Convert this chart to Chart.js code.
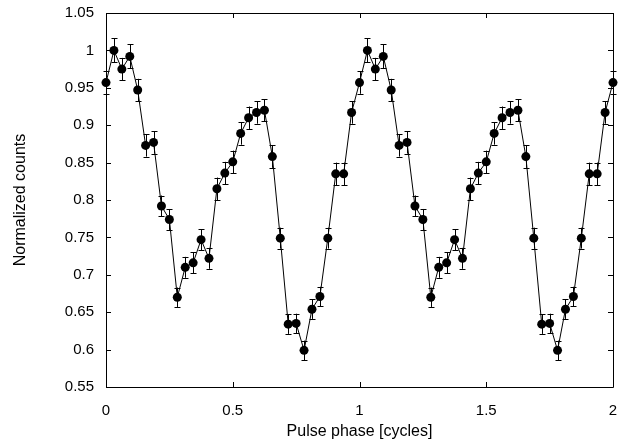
<!DOCTYPE html>
<html>
<head>
<meta charset="utf-8">
<script src="https://cdn.jsdelivr.net/npm/chart.js@4"></script>
<style>
  body { margin: 0; background: #fff; }
  #chart { display: block; }
</style>
</head>
<body>
<canvas id="chart" width="639" height="444"></canvas>
<script>
var phase = [0, 0.03125, 0.0625, 0.09375, 0.125, 0.15625, 0.1875, 0.21875, 0.25, 0.28125, 0.3125, 0.34375, 0.375, 0.40625, 0.4375, 0.46875,
    0.5, 0.53125, 0.5625, 0.59375, 0.625, 0.65625, 0.6875, 0.71875, 0.75, 0.78125, 0.8125, 0.84375, 0.875, 0.90625, 0.9375, 0.96875,
    1, 1.03125, 1.0625, 1.09375, 1.125, 1.15625, 1.1875, 1.21875, 1.25, 1.28125, 1.3125, 1.34375, 1.375, 1.40625, 1.4375, 1.46875,
    1.5, 1.53125, 1.5625, 1.59375, 1.625, 1.65625, 1.6875, 1.71875, 1.75, 1.78125, 1.8125, 1.84375, 1.875, 1.90625, 1.9375, 1.96875, 2];

var counts = [0.957, 1.000, 0.975, 0.992, 0.947, 0.873, 0.877, 0.792, 0.774, 0.670, 0.710, 0.716, 0.747, 0.722, 0.815, 0.836,
    0.851, 0.889, 0.910, 0.917, 0.920, 0.858, 0.749, 0.634, 0.635, 0.599, 0.654, 0.671, 0.749, 0.835, 0.835, 0.917,
    0.957, 1.000, 0.975, 0.992, 0.947, 0.873, 0.877, 0.792, 0.774, 0.670, 0.710, 0.716, 0.747, 0.722, 0.815, 0.836,
    0.851, 0.889, 0.910, 0.917, 0.920, 0.858, 0.749, 0.634, 0.635, 0.599, 0.654, 0.671, 0.749, 0.835, 0.835, 0.917, 0.957];

var errors = [0.015, 0.016, 0.015, 0.016, 0.015, 0.015, 0.015, 0.014, 0.014, 0.013, 0.014, 0.014, 0.014, 0.014, 0.015, 0.015,
    0.015, 0.015, 0.015, 0.015, 0.015, 0.015, 0.014, 0.013, 0.013, 0.013, 0.013, 0.013, 0.014, 0.015, 0.015, 0.015,
    0.015, 0.016, 0.015, 0.016, 0.015, 0.015, 0.015, 0.014, 0.014, 0.013, 0.014, 0.014, 0.014, 0.014, 0.015, 0.015,
    0.015, 0.015, 0.015, 0.015, 0.015, 0.015, 0.014, 0.013, 0.013, 0.013, 0.013, 0.013, 0.014, 0.015, 0.015, 0.015, 0.015];

var xTicks = [0, 0.5, 1, 1.5, 2];
var yTicks = [0.55, 0.6, 0.65, 0.7, 0.75, 0.8, 0.85, 0.9, 0.95, 1, 1.05];

var points = [];
for (var i = 0; i < phase.length; i++) {
    points.push({ x: phase[i], y: counts[i] });
}

var fontFamily = '"Liberation Sans", Arial, sans-serif';

// error bars with small caps, drawn under the markers
var errorBars = {
    id: 'errorBars',
    beforeDatasetsDraw: function (chart) {
        var ctx = chart.ctx;
        var xs = chart.scales.x, ys = chart.scales.y;
        ctx.save();
        ctx.strokeStyle = '#000';
        ctx.lineWidth = 1;
        for (var i = 0; i < phase.length; i++) {
            var px = Math.round(xs.getPixelForValue(phase[i])) + 0.5;
            var top = ys.getPixelForValue(counts[i] + errors[i]);
            var bot = ys.getPixelForValue(counts[i] - errors[i]);
            ctx.beginPath();
            ctx.moveTo(px, top); ctx.lineTo(px, bot);
            ctx.moveTo(px - 3, Math.round(top) + 0.5); ctx.lineTo(px + 3, Math.round(top) + 0.5);
            ctx.moveTo(px - 3, Math.round(bot) + 0.5); ctx.lineTo(px + 3, Math.round(bot) + 0.5);
            ctx.stroke();
        }
        ctx.restore();
    }
};

// box frame and inward ticks on all four sides
var frame = {
    id: 'frame',
    afterDraw: function (chart) {
        var ctx = chart.ctx;
        var a = chart.chartArea;
        var xs = chart.scales.x, ys = chart.scales.y;
        ctx.save();
        ctx.strokeStyle = '#000';
        ctx.lineWidth = 1;
        ctx.beginPath();
        ctx.rect(Math.round(a.left) + 0.5, Math.round(a.top) + 0.5, Math.round(a.right - a.left), Math.round(a.bottom - a.top));
        xTicks.forEach(function (v) {
            var px = Math.round(xs.getPixelForValue(v)) + 0.5;
            ctx.moveTo(px, a.bottom); ctx.lineTo(px, a.bottom - 5);
            ctx.moveTo(px, a.top); ctx.lineTo(px, a.top + 5);
        });
        yTicks.forEach(function (v) {
            var py = Math.round(ys.getPixelForValue(v)) + 0.5;
            ctx.moveTo(a.left, py); ctx.lineTo(a.left + 5, py);
            ctx.moveTo(a.right, py); ctx.lineTo(a.right - 5, py);
        });
        ctx.stroke();
        ctx.restore();
    }
};

var ctx = document.getElementById('chart').getContext('2d');
var chart = new Chart(ctx, {
    type: 'line',
    data: {
        datasets: [{
            label: 'Normalized counts',
            data: points,
            borderColor: '#000',
            borderWidth: 1,
            backgroundColor: '#000',
            pointRadius: 4.5,
            pointBackgroundColor: '#000',
            pointBorderWidth: 0,
            tension: 0,
            clip: false
        }]
    },
    options: {
        responsive: false,
        animation: false,
        layout: { padding: { top: 1, right: 26, left: 0, bottom: 0 } },
        plugins: {
            legend: { display: false },
            tooltip: { enabled: false }
        },
        scales: {
            x: {
                type: 'linear',
                min: 0,
                max: 2,
                afterBuildTicks: function (scale) {
                    scale.ticks = xTicks.map(function (v) { return { value: v }; });
                },
                afterFit: function (scale) { scale.height = 57; },
                grid: { display: false },
                border: { display: false },
                ticks: {
                    color: '#000',
                    padding: 7,
                    font: { family: fontFamily, size: 15 },
                    callback: function (v) { return String(v); }
                },
                title: {
                    display: true,
                    text: 'Pulse phase [cycles]',
                    color: '#000',
                    padding: { top: 0, bottom: 3 },
                    font: { family: fontFamily, size: 16 }
                }
            },
            y: {
                min: 0.55,
                max: 1.05,
                afterBuildTicks: function (scale) {
                    scale.ticks = yTicks.map(function (v) { return { value: v }; });
                },
                afterFit: function (scale) { scale.width = 106; },
                grid: { display: false },
                border: { display: false },
                ticks: {
                    color: '#000',
                    padding: 4,
                    font: { family: fontFamily, size: 15 },
                    callback: function (v) { return String(Math.round(v * 100) / 100); }
                },
                title: {
                    display: true,
                    text: 'Normalized counts',
                    color: '#000',
                    padding: { top: 11, bottom: 0 },
                    font: { family: fontFamily, size: 16 }
                }
            }
        }
    },
    plugins: [errorBars, frame]
});
</script>
</body>
</html>
